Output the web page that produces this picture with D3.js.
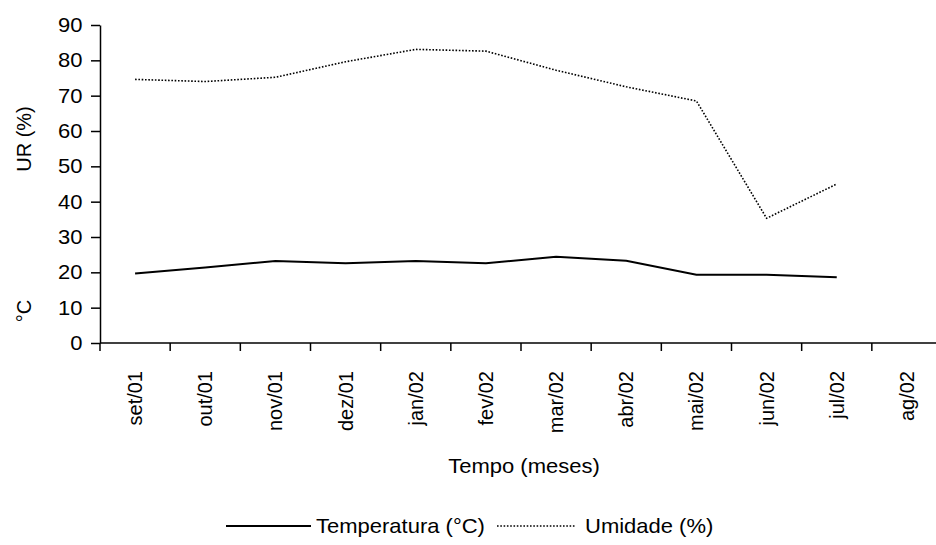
<!DOCTYPE html>
<html>
<head>
<meta charset="utf-8">
<script src="https://cdn.jsdelivr.net/npm/d3@7"></script>
<style>
  html, body { margin: 0; padding: 0; background: #fff; }
  svg { display: block; font-family: "Liberation Sans", Arial, sans-serif; }
  .axis path, .axis line { stroke: #000; stroke-width: 1.5; }
  .axis text { font-size: 20px; fill: #000; }
</style>
</head>
<body>
<svg id="chart" width="936" height="545"></svg>
<script>
// dados
const meses = ["set/01", "out/01", "nov/01", "dez/01", "jan/02", "fev/02",
  "mar/02", "abr/02", "mai/02", "jun/02", "jul/02", "ag/02"];
const temperatura = [19.7, 21.4, 23.2, 22.6, 23.2, 22.6, 24.4, 23.3, 19.3, 19.3, 18.6, null];
const umidade = [74.6, 74.0, 75.2, 79.6, 83.1, 82.6, 77.2, 72.5, 68.5, 35.3, 45.0, null];
const yTicks = [0, 10, 20, 30, 40, 50, 60, 70, 80, 90];

// o texto horizontal do original é um pouco mais largo
const SX = 1.1;

const svg = d3.select("#chart");
const margin = { left: 100, top: 25 };
const plotRight = 942;
const plotBottom = 343;

const x = d3.scaleBand().domain(meses).range([margin.left, plotRight]);
const y = d3.scaleLinear().domain([0, 90]).range([plotBottom, margin.top]);

// eixo Y
const yAxis = svg.append("g")
  .attr("class", "axis")
  .attr("transform", `translate(${margin.left},0)`)
  .call(d3.axisLeft(y).tickValues(yTicks).tickSize(9).tickPadding(7).tickSizeOuter(0));
yAxis.selectAll(".tick text").attr("transform", `scale(${SX},1)`);

// eixo X (ticks nas bordas das categorias)
const xAxis = svg.append("g")
  .attr("class", "axis")
  .attr("transform", `translate(0,${plotBottom})`);
xAxis.append("line")
  .attr("x1", margin.left).attr("x2", plotRight)
  .attr("stroke", "#000").attr("stroke-width", 1.5);
xAxis.selectAll(".tk")
  .data(meses)
  .join("line")
  .attr("x1", d => x(d)).attr("x2", d => x(d))
  .attr("y1", 0).attr("y2", 8)
  .attr("stroke", "#000").attr("stroke-width", 1.5);
xAxis.selectAll(".lbl")
  .data(meses)
  .join("text")
  .attr("transform", d => `translate(${x(d) + x.bandwidth() / 2},28) rotate(-90)`)
  .attr("text-anchor", "end")
  .attr("dy", "0.35em")
  .style("font-size", "20px")
  .text(d => d);

// títulos dos eixos
svg.append("text")
  .attr("transform", "translate(31,139) rotate(-90)")
  .attr("text-anchor", "middle")
  .style("font-size", "20px")
  .text("UR (%)");
svg.append("text")
  .attr("transform", "translate(31,311) rotate(-90)")
  .attr("text-anchor", "middle")
  .style("font-size", "20px")
  .text("°C");
svg.append("text")
  .attr("transform", `translate(${(margin.left + plotRight) / 2 + 3},473) scale(${SX},1)`)
  .attr("text-anchor", "middle")
  .style("font-size", "20px")
  .text("Tempo (meses)");

// linhas
const cx = (d, i) => x(meses[i]) + x.bandwidth() / 2;

const line = d3.line()
  .defined(d => d != null)
  .x(cx)
  .y(d => y(d));

svg.append("path")
  .datum(temperatura)
  .attr("fill", "none")
  .attr("stroke", "#000")
  .attr("stroke-width", 2)
  .attr("d", line);

svg.append("path")
  .datum(umidade)
  .attr("fill", "none")
  .attr("stroke", "#000")
  .attr("stroke-width", 1.6)
  .attr("stroke-dasharray", "1.6,1.7")
  .attr("d", line);

// legenda
const leg = svg.append("g").attr("transform", "translate(0,526)");
leg.append("line")
  .attr("x1", 226).attr("x2", 311).attr("y1", 0).attr("y2", 0)
  .attr("stroke", "#000").attr("stroke-width", 2);
leg.append("text")
  .attr("transform", `translate(316,0) scale(${SX},1)`)
  .attr("dy", "0.35em")
  .style("font-size", "20px")
  .text("Temperatura (°C)");
leg.append("line")
  .attr("x1", 497).attr("x2", 576).attr("y1", 0).attr("y2", 0)
  .attr("stroke", "#000").attr("stroke-width", 1.6)
  .attr("stroke-dasharray", "1.6,1.7");
leg.append("text")
  .attr("transform", `translate(585,0) scale(${SX},1)`)
  .attr("dy", "0.35em")
  .style("font-size", "20px")
  .text("Umidade (%)");
</script>
</body>
</html>
